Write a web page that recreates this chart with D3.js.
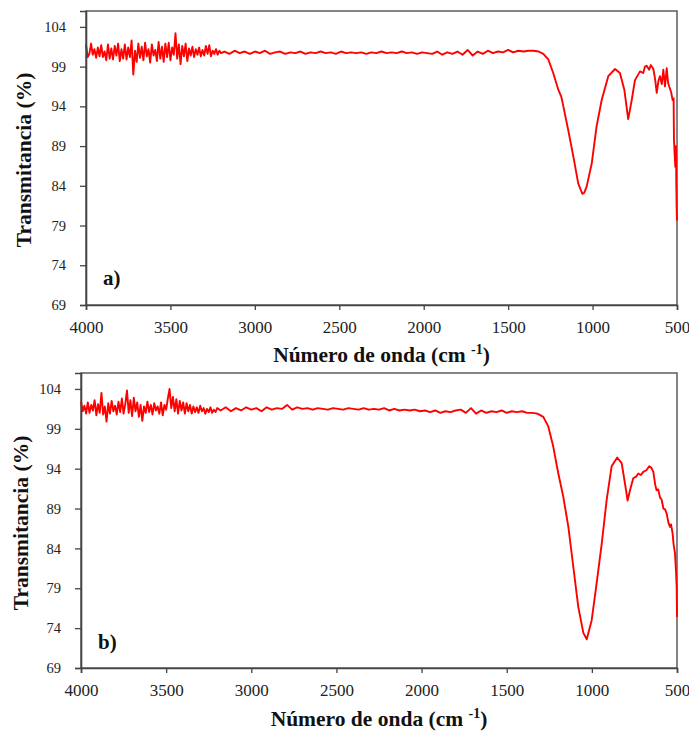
<!DOCTYPE html>
<html>
<head>
<meta charset="utf-8">
<script src="https://cdn.jsdelivr.net/npm/d3@7"></script>
<style>
  body { margin: 0; background: #fff; }
  svg { display: block; }
  .tick text { font-family: "Liberation Serif", "Times New Roman", serif; fill: #222; }
  .ttl { font-family: "Liberation Serif", "Times New Roman", serif; font-weight: bold; fill: #111; }
</style>
</head>
<body>
<div id="chart"></div>
<script>

// tick values shared by both panels
var yTicks = [69, 74, 79, 84, 89, 94, 99, 104],
	xTicks = [4000, 3500, 3000, 2500, 2000, 1500, 1000, 500];

// ---- panel a) ----
// noisy part, 4000 -> 3200 every 10 cm-1
var a_noisy = [101.8,100.2,100.6,101.9,100.5,101.2,100.1,101.4,100.3,101.7,
	100.2,100.9,99.8,101.8,100.0,101.3,99.9,101.6,100.4,101.9,
	99.7,101.2,100.0,101.8,99.9,101.4,100.2,102.3,98.0,101.0,
	99.6,101.9,100.1,101.5,99.8,102.0,100.3,101.2,99.5,101.8,
	100.4,101.1,99.7,102.1,100.0,101.5,99.6,101.9,100.2,102.0,
	99.8,101.4,100.5,103.2,100.0,101.8,99.3,101.6,100.3,101.9,
	99.7,101.3,100.4,101.5,100.2,101.2,100.5,101.4,100.3,101.1,
	100.4,101.6,100.6,101.7,100.3,101.0,100.6,101.2,100.5,101.0,100.7];
// flat part, 3180 -> 1380 every 30 cm-1
var a_flat = [100.9,100.6,101.0,100.7,100.9,100.6,100.9,100.7,101.0,100.6,
	100.8,100.9,100.6,100.8,100.7,100.9,100.6,100.8,100.7,100.9,
	100.7,100.8,100.6,100.9,100.7,100.8,100.7,100.8,100.6,100.8,
	100.7,100.9,100.7,100.8,100.7,100.9,100.7,100.8,100.6,100.8,
	100.7,100.6,100.9,100.5,100.8,100.6,100.9,100.5,101.1,100.4,
	100.9,100.6,101.0,100.7,100.9,100.8,101.1,100.8,101.0,100.9,101.0];
// bands, [wavenumber, transmittance]
var a_bands = [[1350,101.0],[1320,100.9],[1292,100.6],[1262,99.9],[1233,98.2],[1203,96.1],
	[1185,95.2],[1173,94.0],[1144,91.0],[1114,87.7],[1085,84.3],[1061,83.0],[1050,83.1],
	[1035,83.9],[1005,86.8],[976,91.5],[946,94.8],[907,97.8],[867,98.7],[838,98.2],
	[812,96.1],[789,92.4],[768,94.8],[749,97.3],[719,98.4],[700,98.2],[690,99.0],[680,99.1],
	[665,98.6],[655,99.2],[640,98.7],[630,97.5],[620,95.7],[610,97.2],[601,97.8],[590,96.8],
	[581,98.6],[571,96.5],[561,98.8],[553,97.0],[546,96.5],[535,95.8],[526,94.8],[520,95.0],
	[518,89.8],[514,88.0],[510,86.4],[506,89.0],[504,84.0],[502,81.2],[500,79.6]];

// ---- panel b) ----
var b_noisy = [102.4,101.2,101.9,100.9,102.3,101.0,102.0,101.3,102.6,100.7,
	102.1,101.0,103.5,100.8,101.8,99.9,102.2,100.9,102.5,101.2,
	101.9,100.8,102.4,101.1,102.8,100.9,102.1,103.8,101.0,102.6,
	100.6,102.9,101.2,102.3,100.5,102.0,100.0,101.8,101.0,102.4,
	101.1,102.0,100.8,102.2,101.3,101.8,100.9,102.3,100.7,102.0,
	101.4,102.8,104.0,101.6,103.0,101.2,102.7,100.9,102.5,101.3,
	102.3,100.9,102.2,101.2,102.0,100.9,101.8,101.1,101.7,101.0,
	101.9,101.2,101.6,100.9,101.5,101.1,101.7,101.0,101.4,101.1,101.6];
var b_flat = [101.3,101.7,101.2,101.6,101.3,101.7,101.4,101.6,101.2,101.7,
	101.4,101.6,101.5,102.0,101.4,101.7,101.5,101.6,101.4,101.6,
	101.5,101.4,101.6,101.5,101.4,101.6,101.5,101.4,101.6,101.4,
	101.5,101.4,101.6,101.3,101.5,101.3,101.4,101.3,101.4,101.2,
	101.3,101.1,101.3,101.0,101.2,101.1,101.3,101.4,101.0,101.6,
	100.9,101.3,101.0,101.2,101.1,101.3,101.0,101.2,101.1,101.2,101.0];
var b_bands = [[1350,101.0],[1320,100.9],[1285,100.5],[1256,99.3],[1227,96.8],[1197,93.4],
	[1168,90.5],[1138,86.7],[1109,81.7],[1080,76.7],[1050,73.4],[1030,72.6],[1001,75.0],
	[972,79.6],[942,84.6],[913,90.1],[884,94.3],[851,95.4],[825,94.7],[806,92.2],[790,90.0],
	[776,91.3],[757,92.8],[740,93.0],[727,93.4],[712,93.2],[698,93.6],[680,93.8],[663,94.3],
	[650,94.1],[639,93.6],[628,92.0],[620,91.3],[610,91.4],[600,90.4],[590,90.1],[580,89.0],
	[570,88.9],[561,88.4],[550,87.2],[541,86.7],[535,87.0],[526,85.9],[520,84.5],[512,83.4],
	[506,81.2],[502,79.2],[500,75.4]];

var noisyWn = d3.range(4000, 3195, -10),
	flatWn = d3.range(3180, 1375, -30);

function spectrum(noisy, flat, bands){
	var pts = noisy.map(function(v,i){ return [noisyWn[i], v]; });
	pts = pts.concat(flat.map(function(v,i){ return [flatWn[i], v]; }));
	return pts.concat(bands);
}

var panels = [
	{ label: "a)", data: spectrum(a_noisy, a_flat, a_bands),
	  left: 86, top: 11, right: 677, bottom: 305, labelX: 103, labelY: 285, ytx: 31, ytc: 160, xtY: 362 },
	{ label: "b)", data: spectrum(b_noisy, b_flat, b_bands),
	  left: 81, top: 373, right: 677, bottom: 668, labelX: 98, labelY: 649, ytx: 28, ytc: 523, xtY: 726 }
];

var width = 689, height = 734;

var svg = d3.select("#chart").append("svg")
	.attr("width", width)
	.attr("height", height);

panels.forEach(function(p){
	var X = d3.scaleLinear().domain([4000, 500]).range([p.left, p.right]);
	var Y = d3.scaleLinear().domain([69, 106]).range([p.bottom, p.top]);

	var g = svg.append("g");

	// plot frame
	g.append("rect")
		.attr("x", p.left).attr("y", p.top)
		.attr("width", p.right - p.left).attr("height", p.bottom - p.top)
		.attr("fill", "none").attr("stroke", "#444").attr("stroke-width", 1.3);

	var line = d3.line().x(function(d){ return X(d[0]); }).y(function(d){ return Y(d[1]); });

	g.append("path")
		.datum(p.data)
		.attr("d", line)
		.attr("fill", "none")
		.attr("stroke", "#ff0000")
		.attr("stroke-width", 1.9)
		.attr("stroke-linejoin", "round");

	// axes
	var yAx = g.append("g")
		.attr("transform", "translate(" + p.left + ",0)")
		.call(d3.axisLeft(Y).tickValues(yTicks).tickSize(6).tickPadding(14));
	yAx.selectAll("text").style("font-size", "14.5px");

	var xAx = g.append("g")
		.attr("transform", "translate(0," + p.bottom + ")")
		.call(d3.axisBottom(X).tickValues(xTicks).tickFormat(d3.format("d")).tickSize(5).tickPadding(11));
	xAx.selectAll("text").style("font-size", "17px");

	[yAx, xAx].forEach(function(ax){
		ax.select(".domain").attr("stroke", "#444").attr("stroke-width", 1.6);
		ax.selectAll(".tick line").attr("stroke", "#444").attr("stroke-width", 1.3);
	});

	// titles
	g.append("text")
		.attr("class", "ttl")
		.attr("transform", "translate(" + p.ytx + "," + p.ytc + ") rotate(-90)")
		.attr("text-anchor", "middle")
		.style("font-size", "21.5px")
		.text("Transmitancia (%)");

	var xt = g.append("text")
		.attr("class", "ttl")
		.attr("x", (p.left + p.right) / 2)
		.attr("y", p.xtY)
		.attr("text-anchor", "middle")
		.style("font-size", "21.5px");
	xt.append("tspan").text("Número de onda (cm ");
	xt.append("tspan").attr("dy", -8).style("font-size", "14px").text("-1");
	xt.append("tspan").attr("dy", 8).text(")");

	g.append("text")
		.attr("class", "ttl")
		.attr("x", p.labelX)
		.attr("y", p.labelY)
		.style("font-size", "21px")
		.text(p.label);
});

</script>
</body>
</html>
